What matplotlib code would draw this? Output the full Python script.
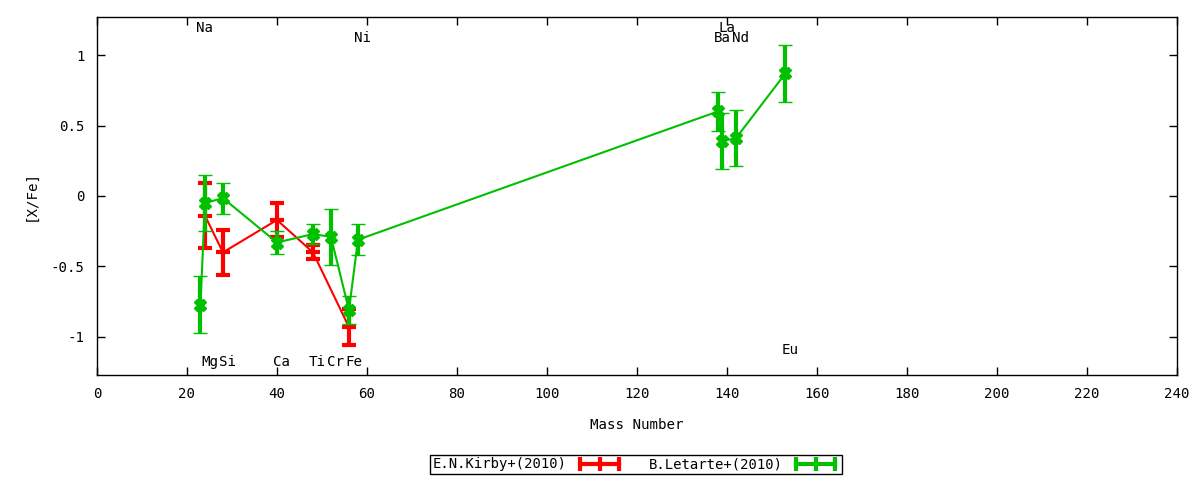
import matplotlib
matplotlib.use('Agg')
import matplotlib.pyplot as plt
from matplotlib.lines import Line2D
from matplotlib.ticker import FuncFormatter

plt.rcParams['font.family'] = 'DejaVu Sans Mono'

# ------- DATA ------- #
# E.N.Kirby+(2010)
kirby_mass = [24, 28, 40, 48, 56]
kirby_xfe = [-0.14, -0.40, -0.17, -0.40, -0.93]
kirby_err = [0.23, 0.16, 0.12, 0.05, 0.13]

# B.Letarte+(2010)
letarte_mass = [23, 24, 28, 40, 48, 52, 56, 58, 138, 139, 142, 153]
letarte_xfe = [-0.77, -0.05, -0.015, -0.33, -0.27, -0.29, -0.81, -0.31,
               0.60, 0.39, 0.41, 0.87]
letarte_err = [0.20, 0.20, 0.11, 0.08, 0.07, 0.20, 0.10, 0.11,
               0.14, 0.20, 0.20, 0.20]

# element labels
elem_names = ['Na', 'Mg', 'Si', 'Ca', 'Ti', 'Cr', 'Fe', 'Ni', 'Ba', 'La', 'Nd', 'Eu']
elem_mass = [23, 24, 28, 40, 48, 52, 56, 58, 138, 139, 142, 153]
elem_ypos = [1.19, -1.18, -1.18, -1.18, -1.18, -1.18, -1.18, 1.12,
             1.12, 1.19, 1.12, -1.09]

red = '#ff0000'
green = '#00c000'
fs = 10.2

# ------- PLOT ------- #
fig = plt.figure(figsize=(12, 4.8), dpi=100)
ax = fig.add_axes([0.0808, 0.21875, 0.9, 0.74585])

ax.errorbar(kirby_mass, kirby_xfe, yerr=kirby_err,
            color=red, lw=1.5, elinewidth=3, capsize=5, capthick=3,
            marker='_', ms=10, mew=3, zorder=3)
ax.errorbar(letarte_mass, letarte_xfe, yerr=letarte_err,
            color=green, lw=1.5, elinewidth=3, capsize=5, capthick=3,
            marker='X', ms=8, mew=1, zorder=4)

# element names
for name, m, yy in zip(elem_names, elem_mass, elem_ypos):
    ax.text(m + 1, yy, name, ha='center', va='center', fontsize=fs)

# axes
ax.set_xlim(0, 240)
ax.set_ylim(-1.27, 1.27)
ax.set_xticks(range(0, 241, 20))
ax.set_yticks([-1, -0.5, 0, 0.5, 1])
ax.yaxis.set_major_formatter(FuncFormatter(lambda v, p: f'{v:g}'))
ax.tick_params(direction='in', length=6, width=1, top=True, right=True,
               labelsize=fs, pad=9)
for sp in ax.spines.values():
    sp.set_linewidth(1)

ax.set_xlabel('Mass Number', fontsize=fs, labelpad=12)
ax.set_ylabel('[X/Fe]', fontsize=fs, labelpad=9)

# legend
h_red = Line2D([], [], color=red, lw=3, marker='|', ms=10, mew=3)
h_green = Line2D([], [], color=green, lw=3, marker='|', ms=10, mew=3)
leg = fig.legend([h_red, h_green], ['E.N.Kirby+(2010)', 'B.Letarte+(2010)'],
                 loc='center', bbox_to_anchor=(0.53, 0.0323), ncol=2,
                 markerfirst=False, numpoints=3, frameon=True, fancybox=False,
                 edgecolor='black', framealpha=1, fontsize=10,
                 handlelength=3.4, columnspacing=1.8, borderpad=0.15,
                 borderaxespad=0, handletextpad=0.7)
leg.get_frame().set_linewidth(1)

plt.savefig('out.png', dpi=100)
